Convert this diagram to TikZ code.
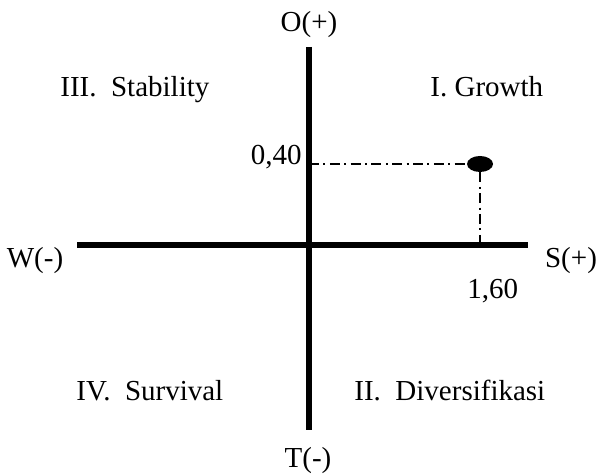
\documentclass[tikz,border=0pt]{standalone}
\usepackage{fontspec}
\setmainfont{Liberation Serif}
\usetikzlibrary{shapes.geometric}
\begin{document}
\begin{tikzpicture}[
x=0.5pt,y=-0.5pt,
axis/.style={line width=2.6pt},
guide/.style={line width=1pt,dash pattern=on 5pt off 2.2pt on 1pt off 2.2pt},
label/.style={inner sep=0pt,font=\fontsize{14.5}{17}\selectfont}
]
\useasboundingbox (0,0) rectangle (597,474);
% axes
\coordinate (top) at (309,47);
\coordinate (bottom) at (309,430);
\coordinate (left) at (77,245);
\coordinate (right) at (528,245);
\draw[axis] (top) -- (bottom);
\draw[axis] (left) -- (right);
% point
\node (pt)[ellipse,fill=black,minimum width=13pt,minimum height=8pt,inner sep=0pt] at (480,164){};
\coordinate (ylevel) at (309,164);
\coordinate (xlevel) at (480,245);
\draw[guide] (ylevel) -- (pt.west);
\draw[guide] (pt.south) -- (xlevel);
% axis labels
\node (O)[label,anchor=base] at (309,32){O(+)};
\node (T)[label,anchor=base] at (308,467){T(-)};
\node (W)[label,anchor=base] at (35,268){W(-)};
\node (S)[label,anchor=base] at (571,268){S(+)};
\node (yval)[label,anchor=base east] at (302,165){0,40};
\node (xval)[label,anchor=base west] at (467,299){1,60};
% quadrants
\node (q3)[label,anchor=base west] at (60,97){III.~~Stability};
\node (q1)[label,anchor=base west] at (430,97){I. Growth};
\node (q4)[label,anchor=base west] at (76,400){IV.~~Survival};
\node (q2)[label,anchor=base west] at (354,400){II.~~Diversifikasi};
\end{tikzpicture}
\end{document}
